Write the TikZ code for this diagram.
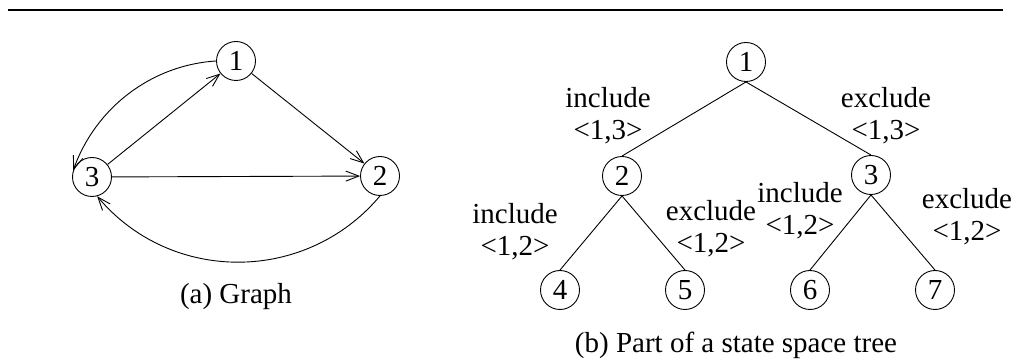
\documentclass[tikz,border=0pt]{standalone}
\usepackage{fontspec}
\setmainfont{Liberation Serif}
\usetikzlibrary{arrows.meta}
\begin{document}
\begin{tikzpicture}[x=1pt,y=-1pt,
  vtx/.style={draw, circle, minimum size=39pt, inner sep=0pt, line width=0.9pt, font=\fontsize{29}{32}\selectfont},
  lbl/.style={align=center, font=\fontsize{29}{32}\selectfont, inner sep=0pt},
  arr/.style={line width=0.9pt, -{Straight Barb[length=13pt,width=10pt,line width=0.9pt]}},
  tedge/.style={line width=0.9pt},
  rule/.style={line width=2.6pt}]
\useasboundingbox (0,0) rectangle (1018,363);
% top rule
\coordinate (rl) at (8,10);
\coordinate (rr) at (1003,10);
\draw[rule] (rl) -- (rr);
% (a) graph
\node[vtx] (g1) at (236,61) {1};
\node[vtx] (g3) at (92,177) {3};
\node[vtx] (g2) at (380,176) {2};
\draw[arr] (g1) -- (g2);
\draw[arr] (g3) -- (g1);
\draw[arr] (g3) -- (g2);
\draw[arr] (g1.west) .. controls (152,65) and (96,107) .. (g3.160);
\draw[arr] (g2.south) .. controls (306,284) and (171,284) .. (g3.-75);
\node[lbl] (capa) at (236,297) {(a) Graph};
% (b) tree
\node[vtx] (t1) at (746,62) {1};
\node[vtx] (t2) at (622,176) {2};
\node[vtx] (t3) at (871,175) {3};
\node[vtx] (t4) at (560,290) {4};
\node[vtx] (t5) at (685,290) {5};
\node[vtx] (t6) at (810,290) {6};
\node[vtx] (t7) at (935,290) {7};
\draw[tedge] (t1.south) -- (t2.north);
\draw[tedge] (t1.south) -- (t3.north);
\draw[tedge] (t2.south) -- (t4.north);
\draw[tedge] (t2.south) -- (t5.north);
\draw[tedge] (t3.south) -- (t6.north);
\draw[tedge] (t3.south) -- (t7.north);
\node[lbl] (l13i) at (608,116) {include\\<1,3>};
\node[lbl] (l13e) at (886,116) {exclude\\<1,3>};
\node[lbl] (l12a) at (515,232) {include\\<1,2>};
\node[lbl] (l12b) at (711,229) {exclude\\<1,2>};
\node[lbl] (l12c) at (800,211) {include\\<1,2>};
\node[lbl] (l12d) at (967,217) {exclude\\<1,2>};
\node[lbl] (capb) at (736,345) {(b) Part of a state space tree};
\end{tikzpicture}
\end{document}
